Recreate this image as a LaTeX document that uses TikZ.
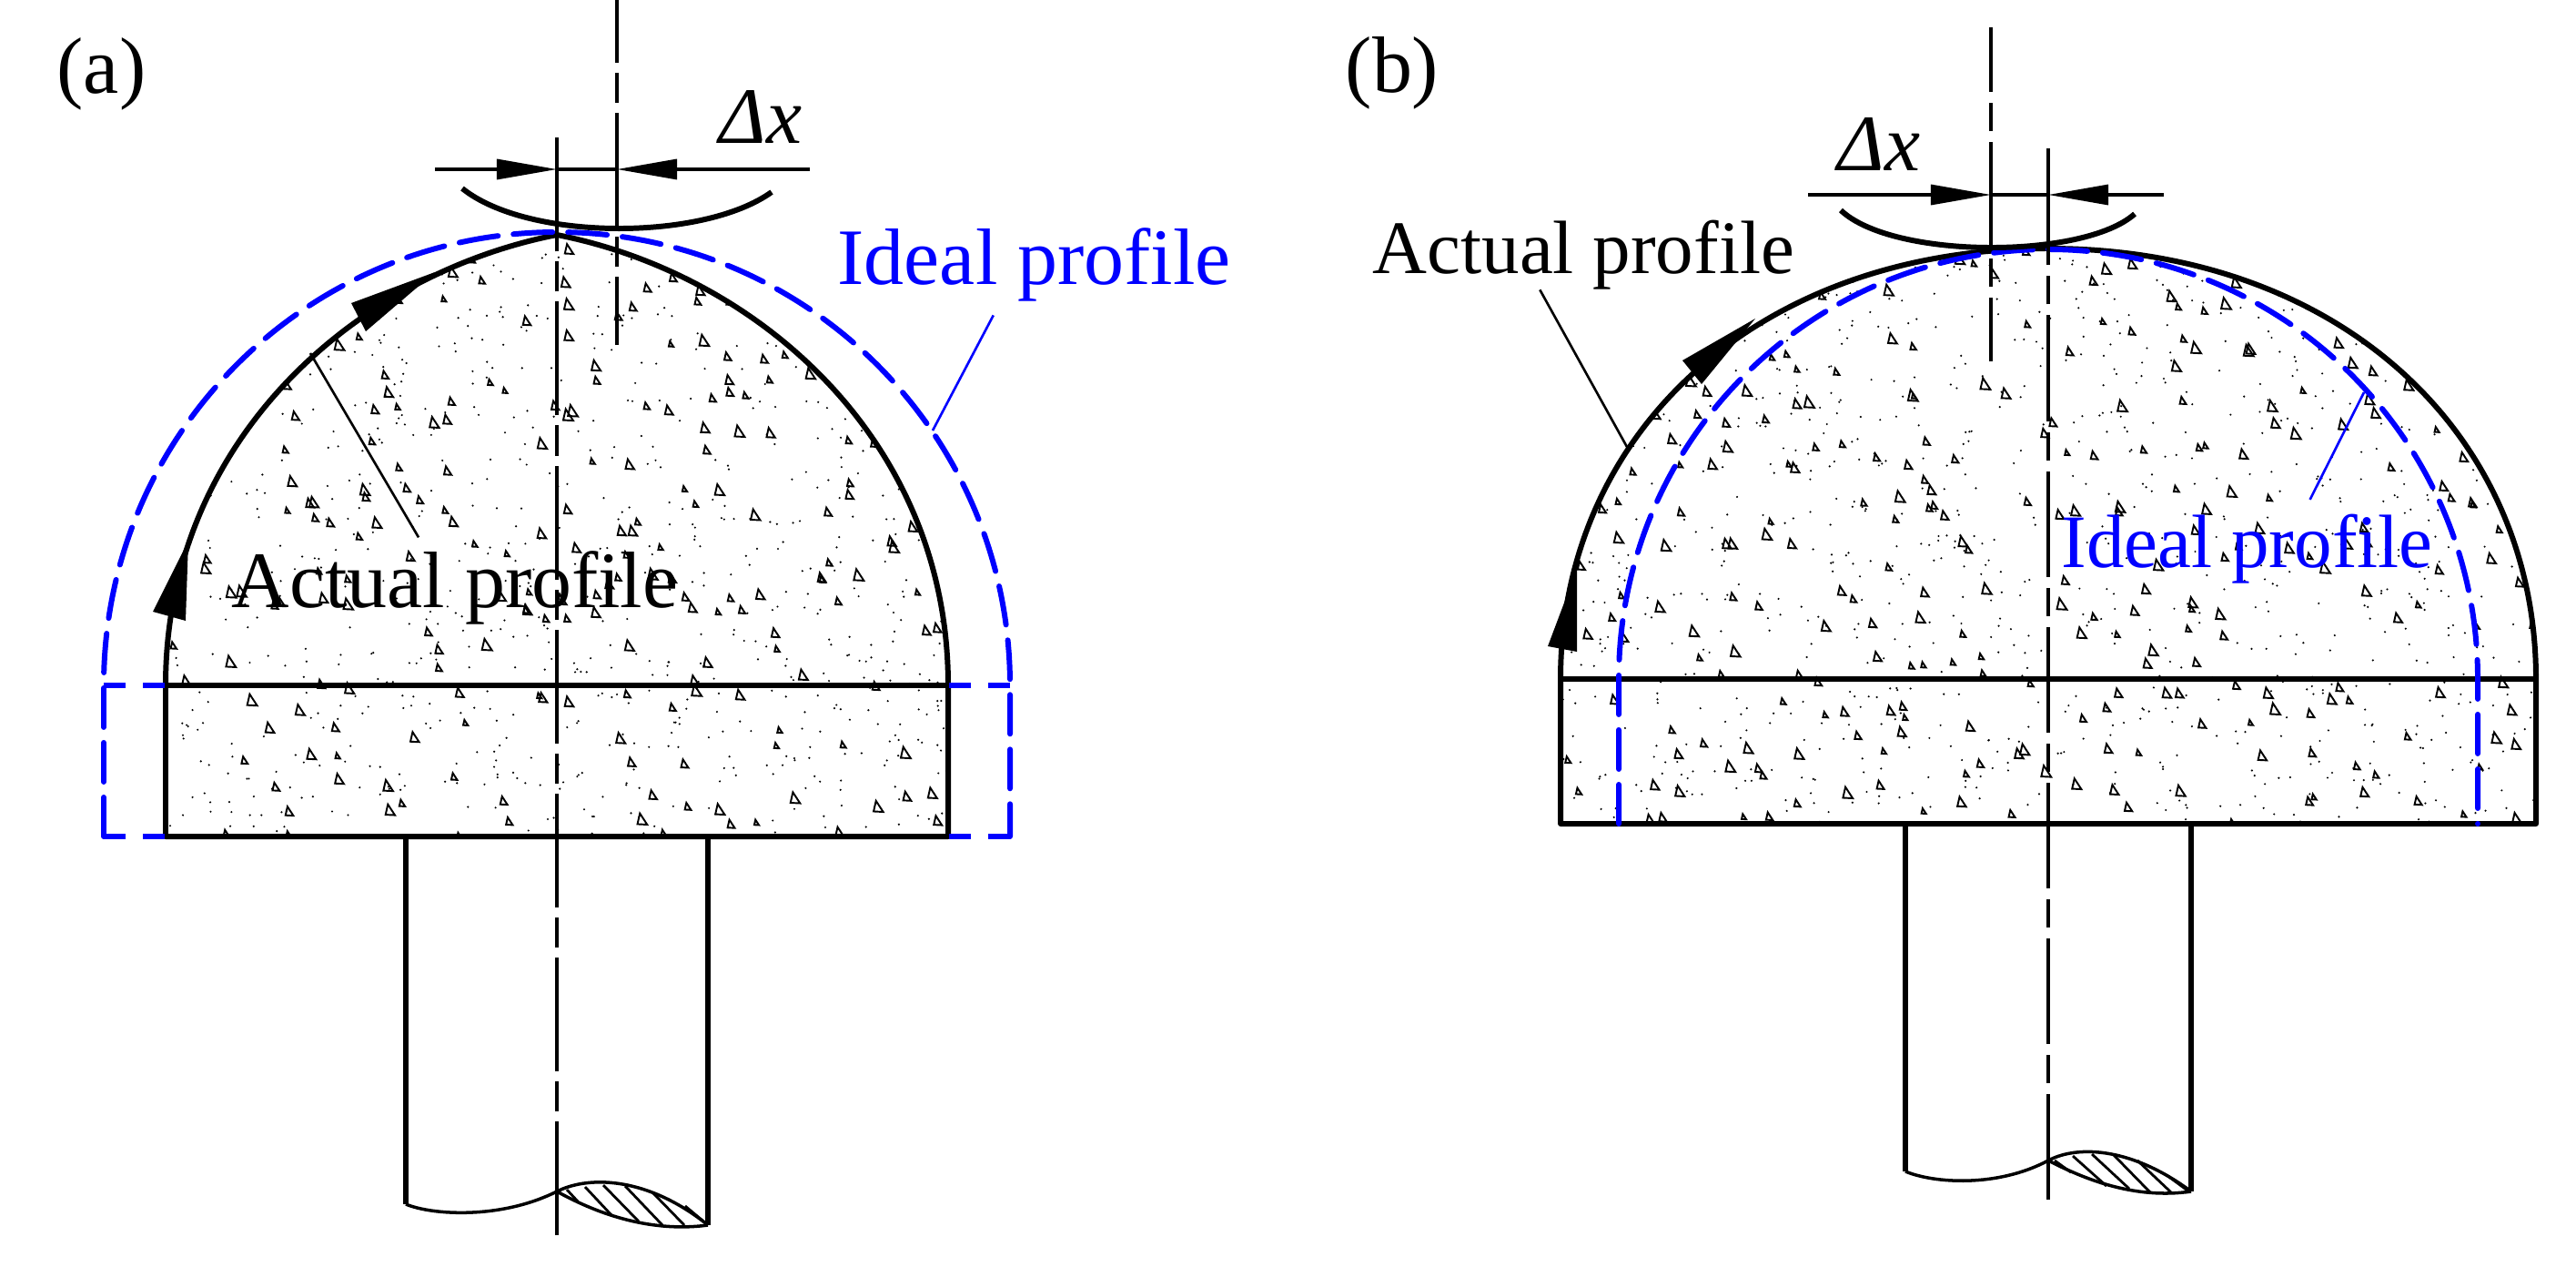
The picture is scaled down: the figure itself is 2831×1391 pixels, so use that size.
\documentclass[tikz,border=0pt]{standalone}
\usepackage{fontspec}
\setmainfont[Ligatures=NoCommon]{Liberation Serif}
\usetikzlibrary{arrows.meta}
\usetikzlibrary{calc}

\tikzset{
    textlabel/.style={font=\fontsize{25}{30}\selectfont, inner sep=0pt, anchor=base west},
    smalllabel/.style={font=\fontsize{23.6}{30}\selectfont, inner sep=0pt, anchor=base west},
    profileline/.style={line width=1.7pt, line join=round},
    idealline/.style={blue, line width=1.7pt, line cap=round, dash pattern=on 0.43cm off 0.17cm},
    idealtick/.style={blue, line width=1.7pt, dash pattern=on 0.24cm off 0.19cm},
    axisa/.style={line width=1pt, dash pattern=on 1.25cm off 0.11cm on 0.33cm off 0.11cm},
    axisb/.style={line width=1pt, dash pattern=on 1.16cm off 0.12cm on 0.31cm off 0.12cm},
    dimline/.style={line width=0.95pt, -{Triangle[length=0.66cm,width=0.22cm]}},
    leaderline/.style={line width=0.75pt},
    breakline/.style={line width=1pt},
    gritmark/.style={line width=0.55pt, line join=miter}
}

% random triangles and dots: xmin, xmax, ymin, ymax, triangles, dots
\newcommand{\gritfill}[6]{
    \foreach \i in {1,...,#5} {
        \pgfmathsetmacro{\gx}{#1+rnd*(#2-#1)}
        \pgfmathsetmacro{\gy}{#3+rnd*(#4-#3)}
        \pgfmathsetmacro{\gs}{5+rnd*6}
        \draw[gritmark] (\gx,\gy) -- ++(\gs,0.05*\gs) -- ++(-0.75*\gs,-1.15*\gs) -- cycle;
    }
    \foreach \i in {1,...,#6} {
        \pgfmathsetmacro{\gx}{#1+rnd*(#2-#1)}
        \pgfmathsetmacro{\gy}{#3+rnd*(#4-#3)}
        \fill (\gx,\gy) circle[radius=1.2];
    }
}

\newcommand{\profilea}{(182,753) .. controls (182,483) and (392,301) .. (612,258) .. controls (832,301) and (1042,483) .. (1042,753)}
\newcommand{\profileb}{(1715,746) .. controls (1715,476) and (1931,273) .. (2251,273) .. controls (2571,273) and (2787,476) .. (2787,746)}

\begin{document}
\begin{tikzpicture}[x=0.01cm,y=-0.01cm]
    \useasboundingbox (0,0) rectangle (2831,1391);
    \pgfmathsetseed{41}

    % (a)
    \begin{scope}
        \clip \profilea -- (1042,919) -- (182,919) -- cycle;
        \gritfill{182}{1042}{258}{930}{260}{800}
    \end{scope}
    \draw[profileline] \profilea -- (1042,919) -- (182,919) -- cycle;
    \draw[profileline] (182,753) -- (1042,753);
    \fill (478,299) -- (386,333) -- (402,364) -- cycle;
    \fill (207,594) -- (168,672) -- (204,682) -- cycle;

    \draw[idealline] (114,919) -- (114,753) arc[start angle=180, end angle=360, radius=498] -- (1110,919);
    \foreach \ya in {753,919} {
        \draw[idealtick] (114,\ya) -- (182,\ya);
        \draw[idealtick] (1110,\ya) -- (1042,\ya);
    }

    \draw[profileline] (446,919) -- (446,1323);
    \draw[profileline] (778,919) -- (778,1346);
    \draw[breakline] (446,1323) .. controls (475,1335) and (550,1340) .. (612,1309);
    \draw[breakline] (612,1309) .. controls (650,1290) and (715,1295) .. (778,1346);
    \draw[breakline] (612,1309) .. controls (650,1330) and (710,1355) .. (778,1346);
    \foreach \xa/\ya/\xb/\yb in {623/1307/635/1320, 643/1304/672/1335, 663/1302/702/1342, 687/1303/728/1346, 717/1310/752/1346, 753/1325/777/1345} {
        \draw[line width=0.8pt] (\xa,\ya) -- (\xb,\yb);
    }

    \draw[axisa] (612,1357) -- (612,151);
    \draw[axisa, dash phase=1.25cm-0.75cm] (678,379) -- (678,0);
    \draw[profileline] (508,207) .. controls (580,265) and (773,265) .. (848,211);
    \draw[dimline] (478,186) -- (612,186);
    \draw[dimline] (890,186) -- (678,186);
    \draw[line width=0.95pt] (612,186) -- (678,186);

    \node[textlabel] (labela) at (62,103) {(a)};
    \node[textlabel] (dxa) at (790,158) {\itshape Δx};
    \node[textlabel] (actuala) at (254,667) {Actual profile};
    \node[textlabel, blue] (ideala) at (920,312) {Ideal profile};
    \coordinate (actualatip) at (341,388);
    \coordinate (idealatip) at (1025,473);
    \draw[leaderline] ($(actuala.north)+(-40,-14)$) -- (actualatip);
    \draw[leaderline, blue] ($(ideala.south)+(-45,15)$) -- (idealatip);

    % (b)
    \begin{scope}
        \clip \profileb -- (2787,905) -- (1715,905) -- cycle;
        \gritfill{1715}{2787}{273}{915}{310}{960}
    \end{scope}
    \draw[profileline] \profileb -- (2787,905) -- (1715,905) -- cycle;
    \draw[profileline] (1715,746) -- (2787,746);
    \fill (1929,350) -- (1849,396) -- (1870,422) -- cycle;
    \fill (1733,625) -- (1701,710) -- (1733,716) -- cycle;

    \draw[idealline] (1779,905) -- (1779,746) arc[start angle=180, end angle=360, radius=472] -- (2723,905);

    \draw[profileline] (2094,905) -- (2094,1287);
    \draw[profileline] (2408,905) -- (2408,1309);
    \draw[breakline] (2094,1287) .. controls (2125,1300) and (2195,1305) .. (2251,1275);
    \draw[breakline] (2251,1275) .. controls (2285,1257) and (2345,1262) .. (2408,1309);
    \draw[breakline] (2251,1275) .. controls (2290,1295) and (2345,1318) .. (2408,1309);
    \foreach \xa/\ya/\xb/\yb in {2258/1275/2276/1288, 2278/1270/2315/1303, 2299/1268/2340/1306, 2322/1268/2363/1310, 2349/1275/2386/1310, 2381/1291/2404/1308} {
        \draw[line width=0.8pt] (\xa,\ya) -- (\xb,\yb);
    }

    \draw[axisb] (2251,1318) -- (2251,176);
    \draw[line width=1pt] (2251,180) -- (2251,163);
    \draw[axisb, dash phase=1.16cm-0.70cm] (2188,397) -- (2188,30);
    \draw[profileline] (2023,231) .. controls (2080,285) and (2290,285) .. (2346,235);
    \draw[dimline] (1987,214) -- (2188,214);
    \draw[dimline] (2378,214) -- (2251,214);
    \draw[line width=0.95pt] (2188,214) -- (2251,214);

    \node[textlabel] (labelb) at (1478,102) {(b)};
    \node[textlabel] (dxb) at (2019,187) {\itshape Δx};
    \node[smalllabel] (actualb) at (1508,300) {Actual profile};
    \node[smalllabel, blue] (idealb) at (2265,623) {Ideal profile};
    \coordinate (actualbtip) at (1788,491);
    \coordinate (idealbtip) at (2598,431);
    \draw[leaderline] ($(actualb.south)+(-48,0)$) -- (actualbtip);
    \draw[leaderline, blue] ($(idealb.north)+(69,-15)$) -- (idealbtip);
\end{tikzpicture}
\end{document}
